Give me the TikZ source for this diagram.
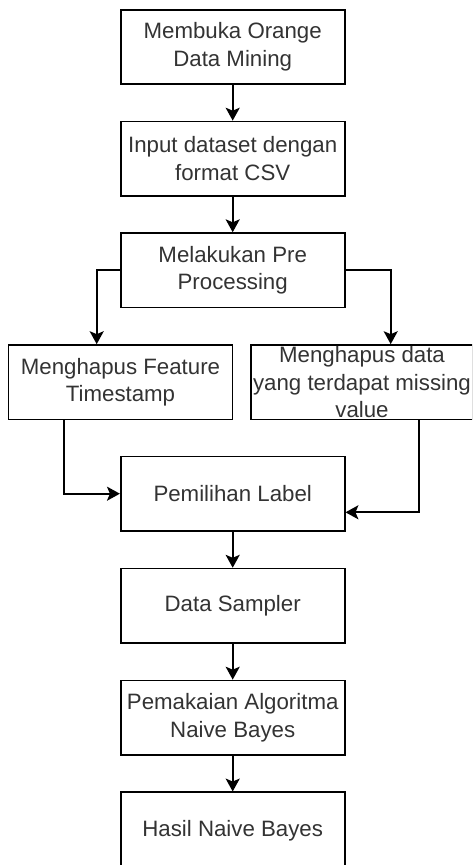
\documentclass[tikz,border=0pt]{standalone}
\usepackage{fontspec}
\setmainfont{Liberation Sans}
\usetikzlibrary{arrows.meta,calc}
\begin{document}
\begin{tikzpicture}[x=0.03cm,y=-0.03cm,line join=miter,>={Stealth[length=11pt,width=12pt,inset=2.5pt]}]
	\tikzset{proses/.style={draw,line width=1.4pt,rectangle,inner sep=0pt,align=center,
			minimum width=224*0.03cm,minimum height=74.5*0.03cm,
			font=\fontsize{19}{23.5}\selectfont,text=black!80},
		alur/.style={->,line width=1.4pt}}
	\useasboundingbox (0,0) rectangle (472,865);
	\clip (0,0) rectangle (472,865);
	% kolom utama
	\node[proses] (buka) at (232.7,47) {Membuka Orange\\Data Mining};
	\node[proses] (input) at (232.7,158.7) {Input dataset dengan\\format CSV};
	\node[proses] (pre) at (232.7,270.3) {Melakukan Pre\\Processing};
	% dua cabang pre processing
	\node[proses] (fitur) at (120.5,382.2) {Menghapus Feature\\Timestamp};
	\node[proses,minimum width=222*0.03cm] (hapus) at (362,382.2) {Menghapus data\\yang terdapat missing\\value};
	\node[proses] (label) at (232.7,493.7) {Pemilihan Label};
	\node[proses] (sampler) at (232.7,605.8) {Data Sampler};
	\node[proses] (algo) at (232.7,717.7) {Pemakaian Algoritma\\Naive Bayes};
	\node[proses,minimum height=76*0.03cm] (hasil) at (232.7,830.3) {\raisebox{3pt}{Hasil Naive Bayes}};
	% panah
	\draw[alur] (buka) -- (input);
	\draw[alur] (input) -- (pre);
	\draw[alur] (pre.west) -| ($(fitur.north)+(-23.8,0)$);
	\draw[alur] (pre.east) -| ($(hapus.north)+(28.7,0)$);
	\draw[alur] ($(fitur.south)+(-56.2,0)$) |- (label.west);
	\draw[alur] ($(hapus.south)+(57.3,0)$) |- ($(label.east)+(0,18.6)$);
	\draw[alur] (label) -- (sampler);
	\draw[alur] (sampler) -- (algo);
	\draw[alur] (algo) -- (hasil);
\end{tikzpicture}
\end{document}
